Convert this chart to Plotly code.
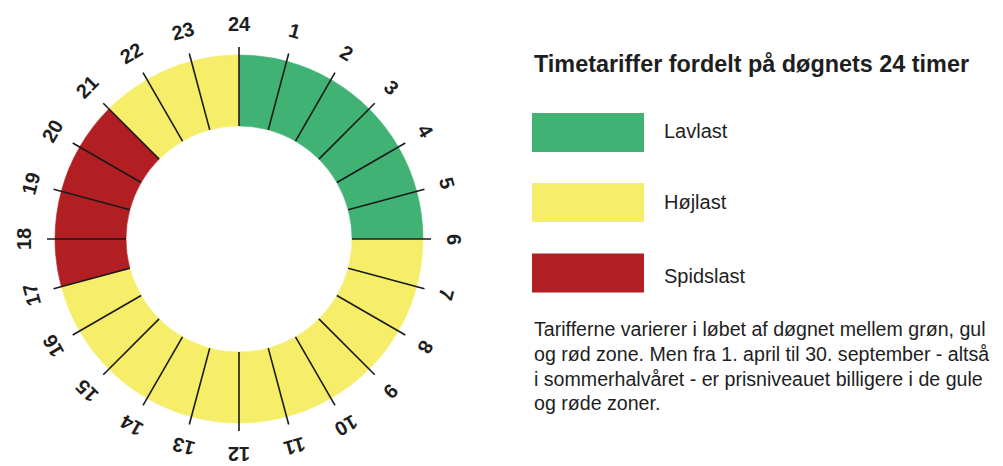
import math
import plotly.graph_objects as go

# ---------------- data ----------------
hour_start = list(range(24))                       # segment i covers hour i -> i+1
hour_zone = ["Lavlast", "Lavlast", "Lavlast", "Lavlast", "Lavlast", "Lavlast",
             "Højlast", "Højlast", "Højlast", "Højlast", "Højlast", "Højlast",
             "Højlast", "Højlast", "Højlast", "Højlast", "Højlast",
             "Spidslast", "Spidslast", "Spidslast", "Spidslast",
             "Højlast", "Højlast", "Højlast"]
tick_labels = ["24", "1", "2", "3", "4", "5", "6", "7", "8", "9", "10", "11",
               "12", "13", "14", "15", "16", "17", "18", "19", "20", "21", "22", "23"]
zone_names = ["Lavlast", "Højlast", "Spidslast"]
zone_colors = {"Lavlast": "#40b273", "Højlast": "#f6ee68", "Spidslast": "#b21f22"}
title_text = "Timetariffer fordelt på døgnets 24 timer"
paragraph_lines = [
    "Tarifferne varierer i løbet af døgnet mellem grøn, gul",
    "og rød zone. Men fra 1. april til 30. september - altså",
    "i sommerhalvåret - er prisniveauet billigere i de gule",
    "og røde zoner.",
]

# ---------------- geometry ----------------
W, H = 1003, 466
cx, cy = 239, 239          # ring centre, pixels from top-left
R_dom = 220                # polar domain radius in px (radial unit = 1 px)
r_in, r_out, r_tick, r_lab = 113, 184, 192, 215
deg_per_hour = 360 / 24
TXT = "#1e1e1e"
FONT = "Liberation Sans, Arial, sans-serif"

fig = go.Figure()

# ring segments
fig.add_trace(go.Barpolar(
    theta=[h * deg_per_hour + deg_per_hour / 2 for h in hour_start],
    r=[r_out - r_in] * len(hour_start),
    base=[r_in] * len(hour_start),
    width=[deg_per_hour] * len(hour_start),
    marker=dict(color=[zone_colors[z] for z in hour_zone],
                line=dict(color=[zone_colors[z] for z in hour_zone], width=0.6)),
    hoverinfo="skip", showlegend=False,
))

# separator lines between hours
lr, lt = [], []
for h in hour_start:
    lr += [r_in, r_tick, None]
    lt += [h * deg_per_hour, h * deg_per_hour, None]
fig.add_trace(go.Scatterpolar(
    r=lr, theta=lt, mode="lines",
    line=dict(color="#1a1a1a", width=1.6),
    hoverinfo="skip", showlegend=False,
))

annotations = []
# hour labels, rotated with the dial
for h, lab in zip(hour_start, tick_labels):
    ang = h * deg_per_hour
    a = math.radians(ang)
    px = cx + r_lab * math.sin(a)
    py = cy - r_lab * math.cos(a)
    ta = ang if ang <= 180 else ang - 360
    annotations.append(dict(
        x=px / W, y=1 - py / H, xref="paper", yref="paper",
        text=f"<b>{lab}</b>", showarrow=False, textangle=ta,
        xanchor="center", yanchor="middle",
        font=dict(family=FONT, size=20, color=TXT),
    ))

# title
annotations.append(dict(
    x=532 / W, y=1 - 64 / H, xref="paper", yref="paper",
    text=f"<b>{title_text}</b>", showarrow=False,
    xanchor="left", yanchor="middle",
    font=dict(family=FONT, size=23.4, color=TXT),
))

# legend boxes + labels
shapes = []
box_x0, box_x1 = 532, 644
box_centres = [132.5, 202.5, 273]
label_centres = [131, 202, 275.5]
for name, bc, lc in zip(zone_names, box_centres, label_centres):
    shapes.append(dict(
        type="rect", xref="paper", yref="paper",
        x0=box_x0 / W, x1=box_x1 / W,
        y0=1 - (bc + 19.5) / H, y1=1 - (bc - 19.5) / H,
        fillcolor=zone_colors[name], line=dict(width=0),
    ))
    annotations.append(dict(
        x=662 / W, y=1 - lc / H, xref="paper", yref="paper",
        text=name, showarrow=False, xanchor="left", yanchor="middle",
        font=dict(family=FONT, size=20, color=TXT),
    ))

# paragraph
for i, line in enumerate(paragraph_lines):
    annotations.append(dict(
        x=532 / W, y=1 - (329 + 24.8 * i) / H, xref="paper", yref="paper",
        text=line, showarrow=False, xanchor="left", yanchor="middle",
        font=dict(family=FONT, size=19.6, color=TXT),
    ))

fig.update_layout(
    width=W, height=H,
    margin=dict(l=0, r=0, t=0, b=0),
    paper_bgcolor="white", plot_bgcolor="white",
    polar=dict(
        domain=dict(x=[(cx - R_dom) / W, (cx + R_dom) / W],
                    y=[(H - cy - R_dom) / H, (H - cy + R_dom) / H]),
        bgcolor="rgba(0,0,0,0)",
        radialaxis=dict(range=[0, R_dom], visible=False, showgrid=False),
        angularaxis=dict(direction="clockwise", rotation=90, visible=False,
                         showgrid=False),
        bargap=0,
    ),
    annotations=annotations,
    shapes=shapes,
    showlegend=False,
)

fig.write_html(
    "out.html",
    config={"displayModeBar": False, "staticPlot": True},
    post_script="document.body.style.margin='0';document.body.style.overflow='hidden';",
)
